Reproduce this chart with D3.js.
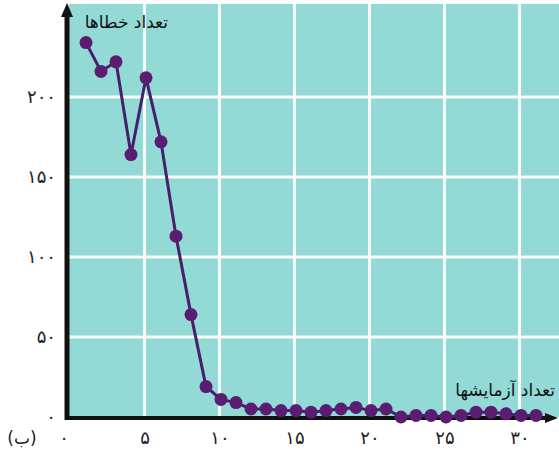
<!DOCTYPE html>
<html><head><meta charset="utf-8">
<script src="https://cdn.jsdelivr.net/npm/d3@7"></script>
<style>body{margin:0;background:#fff}svg{display:block}text{font-family:"DejaVu Sans",sans-serif}</style>
</head><body><svg id="c" width="559" height="454"></svg>
<script>
const trials = d3.range(1, 32);
const errors = [234,216,222,164,212,172,113,64,19,11,9,5,5,4,4,3,4,5,6,4,5,0,1,1,0,1,3,3,2,1,1];
const xTicks = [0,5,10,15,20,25,30];
const yTicks = [0,50,100,150,200];
const xTickLabels = ["۰","۵","۱۰","۱۵","۲۰","۲۵","۳۰"];
const yTickLabels = ["۰","۵۰","۱۰۰","۱۵۰","۲۰۰"];
const yTitle = "تعداد خطاها";
const xTitle = "تعداد آزمایشها";
const panelLabel = "(ب)";

const svg = d3.select("#c");
const x = d3.scaleLinear().domain([0,32]).range([71,551]);
const y = d3.scaleLinear().domain([0,250]).range([417,17]);

svg.append("rect").attr("x",69).attr("y",4).attr("width",490).attr("height",413).attr("fill","#93d9d6");
// grid
svg.selectAll(".vg").data(xTicks.filter(d=>d>0)).join("line")
  .attr("x1",d=>x(d)-1.5).attr("x2",d=>x(d)-1.5).attr("y1",4).attr("y2",417)
  .attr("stroke","#f6fcfc").attr("stroke-width",3);
svg.selectAll(".hg").data(yTicks.filter(d=>d>0)).join("line")
  .attr("x1",69).attr("x2",559).attr("y1",d=>y(d)).attr("y2",d=>y(d))
  .attr("stroke","#f6fcfc").attr("stroke-width",3);

// axes
svg.append("line").attr("x1",67).attr("x2",67).attr("y1",420).attr("y2",14).attr("stroke","#111").attr("stroke-width",5);
svg.append("path").attr("d","M61,17 L67,3 L73,17 Z").attr("fill","#111");
svg.append("line").attr("x1",65).attr("x2",548).attr("y1",418).attr("y2",418).attr("stroke","#111").attr("stroke-width",4);
svg.append("path").attr("d","M545,413 L558,418 L545,423 Z").attr("fill","#111");

// tick labels
svg.selectAll(".yl").data(yTicks).join("text")
  .attr("x",56).attr("y",d=>y(d)).attr("dy","0.35em").attr("text-anchor","end")
  .attr("font-size",18).attr("letter-spacing",2).attr("fill","#222").text((d,i)=>yTickLabels[i]);
svg.selectAll(".xl").data(xTicks).join("text")
  .attr("x",d=>d===0?64:x(d)-1).attr("y",444).attr("text-anchor","middle")
  .attr("font-size",18).attr("letter-spacing",2).attr("fill","#222").text((d,i)=>xTickLabels[i]);
svg.append("text").attr("x",22).attr("y",444).attr("text-anchor","middle").attr("font-size",17).attr("fill","#222").text(panelLabel);

// titles
svg.append("text").attr("x",168).attr("y",28).attr("text-anchor","end").attr("font-size",17).attr("fill","#111").text(yTitle);
svg.append("text").attr("x",555).attr("y",396).attr("text-anchor","end").attr("font-size",17).attr("fill","#111").text(xTitle);

// data
const line = d3.line().x((d,i)=>x(trials[i])).y(d=>y(d));
svg.append("path").datum(errors).attr("d",line).attr("fill","none").attr("stroke","#45206a").attr("stroke-width",3);
svg.selectAll(".pt").data(errors).join("circle")
  .attr("cx",(d,i)=>x(trials[i])).attr("cy",d=>y(d)).attr("r",6.5).attr("fill","#5a1d72");
</script></body></html>
